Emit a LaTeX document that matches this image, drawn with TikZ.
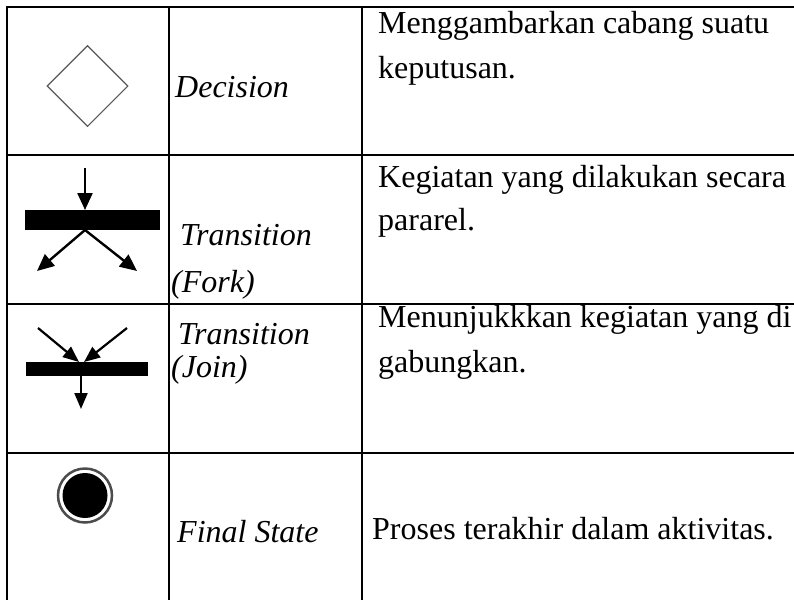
\documentclass[tikz,border=0pt]{standalone}
\usepackage{fontspec}
\setmainfont{Liberation Serif}
\usetikzlibrary{arrows.meta,shapes.geometric}
\begin{document}
\begin{tikzpicture}[x=1pt,y=-1pt,
  grid/.style={line width=2pt,black},
  txt/.style={anchor=base west,inner sep=0pt,font=\fontsize{32}{32}\selectfont},
  itxt/.style={txt,font=\fontsize{32}{32}\selectfont\itshape},
  bar/.style={fill=black,draw=none},
  flow/.style={line width=2.4pt,-{Triangle[length=17pt,width=15pt]}},
  flowsm/.style={line width=2.2pt,-{Triangle[length=16pt,width=13pt]}}]
\useasboundingbox (0,0) rectangle (794,600);
% table rules
\foreach \y in {7,155,304,453} \draw[grid] (6,\y) -- (794,\y);
\foreach \x in {7,169,362} \draw[grid] (\x,6) -- (\x,600);

% Decision symbol
\node[draw=black!65,line width=1.1pt,diamond,minimum width=81pt,minimum height=81pt,inner sep=0pt] (dec) at (87.5,86) {};

% Fork symbol
\path[bar] (25,210) rectangle (160,230);
\coordinate (fkin) at (85,168);
\coordinate (fktop) at (85,210);
\coordinate (fkbot) at (85,230);
\coordinate (fkl) at (37,271);
\coordinate (fkr) at (137,271);
\draw[flow] (fkin) -- (fktop);
\draw[flow] (fkbot) -- (fkl);
\draw[flow] (fkbot) -- (fkr);

% Join symbol
\path[bar] (26,362) rectangle (148,376);
\coordinate (jnl) at (38,328);
\coordinate (jnr) at (127,328);
\coordinate (jntopl) at (79,362);
\coordinate (jntopr) at (84,362);
\coordinate (jnbot) at (81,376);
\coordinate (jnout) at (81,409);
\draw[flowsm] (jnl) -- (jntopl);
\draw[flowsm] (jnr) -- (jntopr);
\draw[flowsm] (jnbot) -- (jnout);

% Final state symbol
\node[circle,draw=black!70,line width=2.5pt,minimum size=54pt,inner sep=0pt] (fin) at (85,495.5) {};
\node[circle,fill=black,minimum size=45pt,inner sep=0pt] (fincore) at (fin.center) {};

% names
\node[itxt] (n1) at (175,97) {Decision};
\node[itxt] (n2a) at (180,245) {Transition};
\node[itxt] (n2b) at (171,292) {(Fork)};
\node[itxt] (n3a) at (178,344) {Transition};
\node[itxt] (n3b) at (171,377) {(Join)};
\node[itxt] (n4) at (177,542) {Final State};

% descriptions
\node[txt] (d1a) at (378,33) {Menggambarkan cabang suatu};
\node[txt] (d1b) at (378,78) {keputusan.};
\node[txt] (d2a) at (378,187) {Kegiatan yang dilakukan secara};
\node[txt] (d2b) at (378,230) {pararel.};
\node[txt] (d3a) at (378,327) {Menunjukkkan kegiatan yang di};
\node[txt] (d3b) at (378,372) {gabungkan.};
\node[txt] (d4) at (372,539) {Proses terakhir dalam aktivitas.};
\end{tikzpicture}
\end{document}
